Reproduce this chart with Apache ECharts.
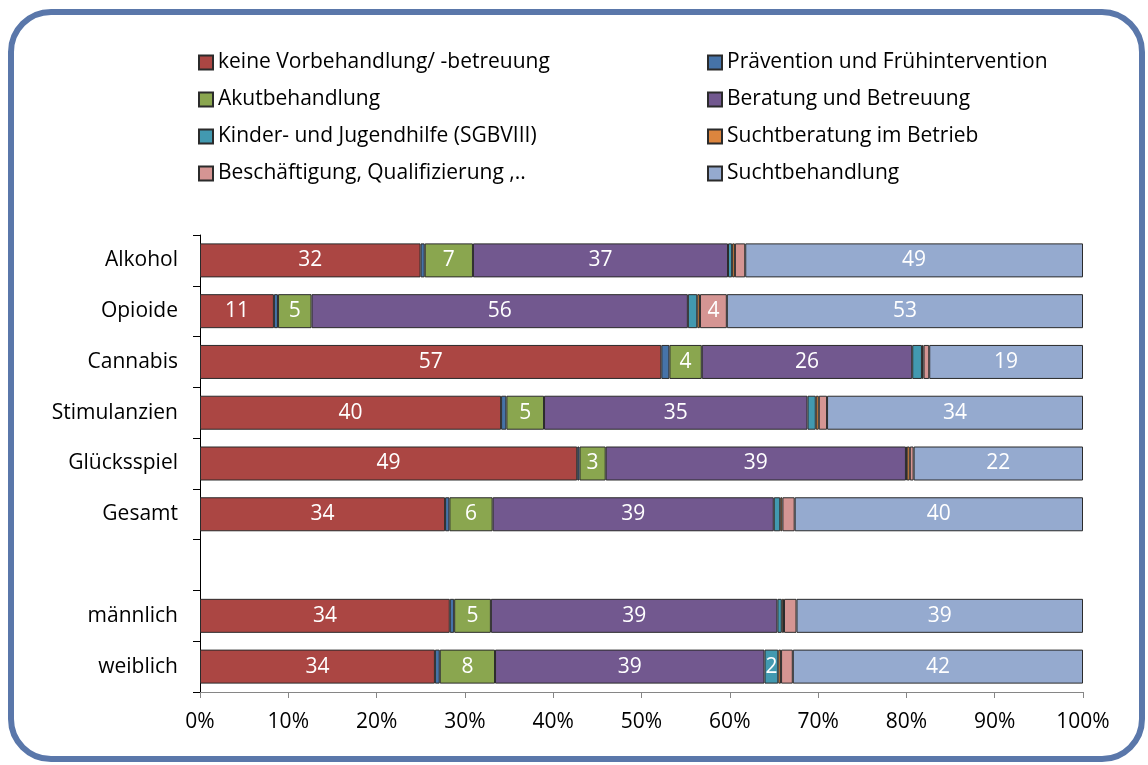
<!DOCTYPE html>
<html>
<head>
<meta charset="utf-8">
<script src="https://cdn.jsdelivr.net/npm/echarts@6/dist/echarts.min.js"></script>
<style>
  html, body { margin: 0; padding: 0; background: #fff; }
  #chart { width: 1148px; height: 765px; }
</style>
</head>
<body>
<div id="chart"></div>
<script>
  // Kategorien (leerer Eintrag = Abstand zwischen Gesamt und Geschlecht)
  var categories = ['Alkohol', 'Opioide', 'Cannabis', 'Stimulanzien', 'Glücksspiel', 'Gesamt', '', 'männlich', 'weiblich'];

  // Nennungen in %, Mehrfachantworten -> Balken auf 100% normiert
  var keineVorbehandlung = [32, 11, 57, 40, 49, 34, null, 34, 34];
  var praevention        = [0.6, 0.6, 1.0, 0.7, 0.3, 0.6, null, 0.6, 0.7];
  var akutbehandlung     = [7, 5, 4, 5, 3.4, 6, null, 5, 8];
  var beratung           = [37, 56, 26, 35, 39, 39, null, 39, 39];
  var kinderJugend       = [0.6, 1.4, 1.2, 1.1, 0.1, 0.9, null, 0.6, 2];
  var suchtBetrieb       = [0.4, 0.4, 0.2, 0.4, 0.4, 0.3, null, 0.3, 0.4];
  var beschaeftigung     = [1.5, 4, 0.7, 1.1, 0.5, 1.7, null, 1.7, 1.7];
  var suchtbehandlung    = [49, 53, 19, 34, 22, 40, null, 39, 42];

  var xTicks = ['0%', '10%', '20%', '30%', '40%', '50%', '60%', '70%', '80%', '90%', '100%'];

  var seriesDefs = [
    { name: 'keine Vorbehandlung/ -betreuung', data: keineVorbehandlung, color: '#AB4643' },
    { name: 'Prävention und Frühintervention', data: praevention, color: '#4673A8' },
    { name: 'Akutbehandlung', data: akutbehandlung, color: '#8AA64F' },
    { name: 'Beratung und Betreuung', data: beratung, color: '#72588F' },
    { name: 'Kinder- und Jugendhilfe (SGBVIII)', data: kinderJugend, color: '#4299B0' },
    { name: 'Suchtberatung im Betrieb', data: suchtBetrieb, color: '#DC853E' },
    { name: 'Beschäftigung, Qualifizierung ,..', data: beschaeftigung, color: '#D59593' },
    { name: 'Suchtbehandlung', data: suchtbehandlung, color: '#95AACF' }
  ];

  // Summe pro Kategorie
  var totals = categories.map(function(c, i) {
    var s = 0;
    seriesDefs.forEach(function(d) { if (d.data[i] != null) s += d.data[i]; });
    return s;
  });

  var FONT = 'Open Sans';

  var series = seriesDefs.map(function(d) {
    return {
      name: d.name,
      type: 'bar',
      stack: 'gesamt',
      barWidth: 34,
      data: d.data.map(function(v, i) {
        return v == null ? null : { value: v / totals[i] * 100, raw: v };
      }),
      itemStyle: { color: d.color, borderColor: '#2b2b2b', borderWidth: 1 },
      label: {
        show: true,
        position: 'inside',
        color: '#fff',
        fontFamily: FONT,
        fontSize: 21,
        formatter: function(p) {
          var r = p.data && p.data.raw;
          return r >= 1.9 ? String(Math.round(r)) : '';
        }
      }
    };
  });

  var legendBase = {
    orient: 'vertical',
    top: 47,
    icon: 'rect',
    itemWidth: 14,
    itemHeight: 14,
    itemGap: 16,
    textStyle: { fontFamily: FONT, fontSize: 21, color: '#000' }
  };

  var myChart = echarts.init(document.getElementById('chart'));
  var option = {
    animation: false,
    textStyle: { fontFamily: FONT },
    graphic: [{
      type: 'rect',
      shape: { x: 11, y: 12, width: 1131, height: 747, r: 40 },
      style: { fill: 'none', stroke: '#5A77AA', lineWidth: 6 },
      z: 100
    }],
    legend: [
      Object.assign({}, legendBase, {
        left: 193,
        data: [seriesDefs[0].name, seriesDefs[2].name, seriesDefs[4].name, seriesDefs[6].name]
      }),
      Object.assign({}, legendBase, {
        left: 702,
        data: [seriesDefs[1].name, seriesDefs[3].name, seriesDefs[5].name, seriesDefs[7].name]
      })
    ],
    grid: { left: 200, right: 65, top: 235, height: 457, containLabel: false },
    xAxis: {
      type: 'value',
      min: 0,
      max: 100,
      interval: 10,
      axisLine: { show: true, lineStyle: { color: '#868686', width: 1 } },
      axisTick: { show: true, length: 6, lineStyle: { color: '#868686' } },
      splitLine: { show: false },
      axisLabel: {
        color: '#000', fontFamily: FONT, fontSize: 21, margin: 20,
        formatter: function(v) { return xTicks[Math.round(v / 10)]; }
      }
    },
    yAxis: {
      type: 'category',
      inverse: true,
      data: categories,
      axisLine: { show: true, lineStyle: { color: '#000', width: 1 } },
      axisTick: { show: true, length: 7, lineStyle: { color: '#000' } },
      axisLabel: { color: '#000', fontFamily: FONT, fontSize: 21, margin: 22 }
    },
    series: series
  };
  myChart.setOption(option);
</script>
</body>
</html>
